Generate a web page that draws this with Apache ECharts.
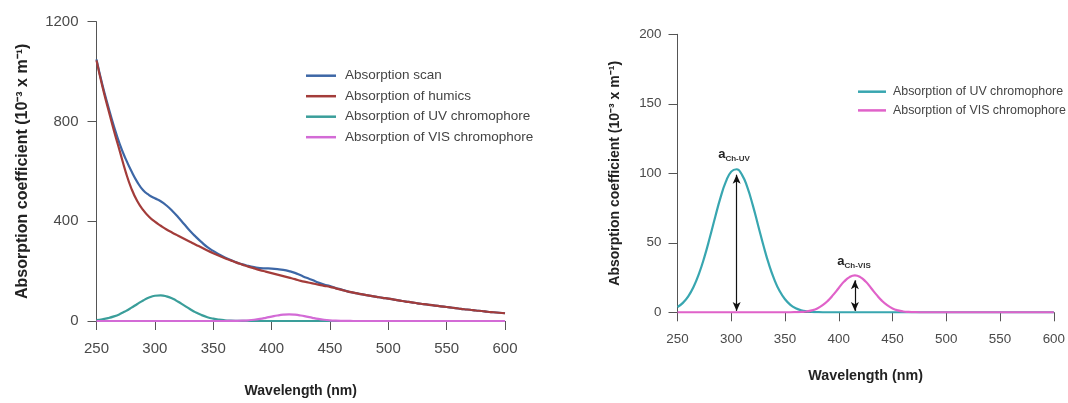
<!DOCTYPE html>
<html>
<head>
<meta charset="utf-8">
<script src="https://cdn.jsdelivr.net/npm/echarts@6/dist/echarts.min.js"></script>
<style>html,body{margin:0;padding:0;background:#fff}#c{width:1068px;height:403px}</style>
</head>
<body>
<div id="c"></div>
<script>
// ---- data ----
const wavelength = [250,255,260,265,270,275,280,285,290,295,300,305,310,315,320,325,330,335,340,345,350,355,360,365,370,375,380,385,390,395,400,405,410,415,420,425,430,435,440,445,450,455,460,465,470,475,480,485,490,495,500,505,510,515,520,525,530,535,540,545,550,555,560,565,570,575,580,585,590,595,600];
const scan = [1049,948,861,780,708,650,600,557,524,505,492,480,463,441,416,389,362,338,316,296,281,267,255,245,235,227,221,216,212,211,210,208,205,200,193,183,173,164,154,146,140,132,126,119,114,109,105,101,97,93,90,86,82,78,75,71,68,65,62,59,56,53,50,47,45,42,40,37,35,33,31];
const humics = [1045,941,850,762,680,598,530,480,445,418,398,382,367,354,342,330,318,306,295,283,272,262,252,243,234,226,218,211,204,198,192,186,180,174,168,161,156,151,146,141,137,131,125,119,114,109,105,101,97,93,90,86,82,78,75,71,68,65,62,59,56,53,50,47,45,42,40,37,35,33,31];
const uvChromophore = [3.8,6.8,11.5,18.4,27.8,39.7,53.6,68.4,82.5,94.0,101.2,102.9,98.9,89.8,77.1,62.5,47.9,34.6,23.7,15.3,9.4,5.4,2.9,1.5,0.7,0.3,0.1,0,0,0,0,0,0,0,0,0,0,0,0,0,0,0,0,0,0,0,0,0,0,0,0,0,0,0,0,0,0,0,0,0,0,0,0,0,0,0,0,0,0,0,0];
const visChromophore = [0,0,0,0,0,0,0,0,0,0,0,0,0,0,0,0,0,0,0,0,0,0,0.1,0.3,0.6,1.4,2.8,5.1,8.4,12.7,17.5,22.1,25.3,26.5,25.3,22.1,17.5,12.7,8.4,5.1,2.8,1.4,0.6,0.3,0.1,0,0,0,0,0,0,0,0,0,0,0,0,0,0,0,0,0,0,0,0,0,0,0,0,0,0];
const seriesNames = ['Absorption scan','Absorption of humics','Absorption of UV chromophore','Absorption of VIS chromophore'];
const peakLabels = ['Ch-UV','Ch-VIS'];
const uvArrow = [305, 1, 99];     // wavelength, from, to
const visArrow = [415, 1, 23];
const uvLabelPos = [302.6, 114.5];
const visLabelPos = [414.2, 37.6];
const leftTicks = {min:0, max:1200, interval:400};
const rightTicks = {min:0, max:200, interval:50};
const xTicks = {min:250, max:600, interval:50};

const FONT = '"Liberation Sans", Arial, Helvetica, sans-serif';
const AX = '#555';
const pairs = v => wavelength.map((w,i)=>[w,v[i]]);

function xAxisCfg(gi, fs, margin, gap, nfs){
  return {type:'value', gridIndex:gi, min:xTicks.min, max:xTicks.max, interval:xTicks.interval,
    axisLine:{show:true, onZero:true, lineStyle:{color:AX, width:1}},
    axisTick:{show:true, length:9, lineStyle:{color:AX, width:1}},
    axisLabel:{margin:margin, fontSize:fs, color:'#4a4a4a', fontFamily:FONT, formatter:v=>String(v)},
    splitLine:{show:false},
    name:'Wavelength (nm)', nameLocation:'middle', nameGap:gap,
    nameTextStyle:{fontWeight:'bold', fontSize:nfs, color:'#222', fontFamily:FONT}};
}
function yAxisCfg(gi, t, fs, margin, gap, nfs){
  return {type:'value', gridIndex:gi, min:t.min, max:t.max, interval:t.interval,
    axisLine:{show:true, lineStyle:{color:AX, width:1}},
    axisTick:{show:true, length:9, lineStyle:{color:AX, width:1}},
    axisLabel:{margin:margin, fontSize:fs, color:'#4a4a4a', fontFamily:FONT, formatter:v=>String(v)},
    splitLine:{show:false},
    name:'Absorption coefficient (10\u207B\u00B3 x m\u207B\u00B9)', nameLocation:'middle', nameRotate:90, nameGap:gap,
    nameTextStyle:{fontWeight:'bold', fontSize:nfs, color:'#222', fontFamily:FONT}};
}
function lineSeries(name, data, color, xi, width){
  return {name:name, type:'line', xAxisIndex:xi, yAxisIndex:xi, data:pairs(data), symbol:'none', showSymbol:false,
    smooth:0.5, lineStyle:{color:color, width:width}, itemStyle:{color:color}, silent:true};
}
const richLbl = {
  a:{fontSize:13, fontWeight:'bold', color:'#222', fontFamily:FONT, lineHeight:16, verticalAlign:'bottom'},
  s:{fontSize:8, fontWeight:'bold', color:'#333', fontFamily:FONT, lineHeight:10, verticalAlign:'bottom', padding:[0,0,-2,0]}
};
function arrowMark(a){
  return {silent:true, symbol:['arrow','arrow'], symbolSize:[6,9], animation:false,
    lineStyle:{color:'#111', width:1.2, type:'solid'}, label:{show:false},
    emphasis:{disabled:true},
    data:[[{coord:[a[0],a[1]]},{coord:[a[0],a[2]]}]]};
}
function labelMark(pos, sub){
  return {silent:true, symbol:'circle', symbolSize:0, animation:false,
    label:{show:true, position:'inside', formatter:'{a|a}{s|'+sub+'}', rich:richLbl},
    data:[{coord:pos}]};
}

const COL = {scan:'#3d67a6', hum:'#a33c3a', uvL:'#3a9e9a', visL:'#d36bd6', uvR:'#38a6b0', visR:'#e062c9'};

const uvR = lineSeries('rUV', uvChromophore, COL.uvR, 1, 2.2);
uvR.markLine = arrowMark(uvArrow);
uvR.markPoint = labelMark(uvLabelPos, peakLabels[0]);
const visR = lineSeries('rVIS', visChromophore, COL.visR, 1, 2.2);
visR.markLine = arrowMark(visArrow);
visR.markPoint = labelMark(visLabelPos, peakLabels[1]);

const option = {
  animation:false,
  backgroundColor:'#fff',
  grid:[
    {left:96.5, top:21.7, width:408.5, height:305.6},
    {left:677.5, top:34.3, width:376.3, height:278}
  ],
  xAxis:[xAxisCfg(0, 15, 20, 63, 14), xAxisCfg(1, 13.4, 21, 57, 14.3)],
  yAxis:[yAxisCfg(0, leftTicks, 15, 18, 66, 16), yAxisCfg(1, rightTicks, 13.4, 16, 55, 14)],
  legend:[
    {left:301, top:63.7, orient:'vertical', icon:'rect', itemWidth:30, itemHeight:2.5, itemGap:6.5, selectedMode:false,
     textStyle:{fontSize:13.5, color:'#444', fontFamily:FONT, lineHeight:14, padding:[0,0,0,4]},
     data:seriesNames.slice()},
    {left:853, top:79.7, orient:'vertical', icon:'rect', itemWidth:28, itemHeight:2.5, itemGap:4.7, selectedMode:false,
     formatter:n => n==='rUV' ? seriesNames[2] : seriesNames[3],
     textStyle:{fontSize:12.4, color:'#444', fontFamily:FONT, lineHeight:14, padding:[0,0,0,2]},
     data:['rUV','rVIS']}
  ],
  series:[
    lineSeries(seriesNames[0], scan, COL.scan, 0, 2.2),
    lineSeries(seriesNames[1], humics, COL.hum, 0, 2.2),
    lineSeries(seriesNames[2], uvChromophore, COL.uvL, 0, 2.2),
    lineSeries(seriesNames[3], visChromophore, COL.visL, 0, 2.2),
    uvR, visR
  ]
};
const chart = echarts.init(document.getElementById('c'), null, {renderer:'canvas'});
chart.setOption(option);
</script>
</body>
</html>
